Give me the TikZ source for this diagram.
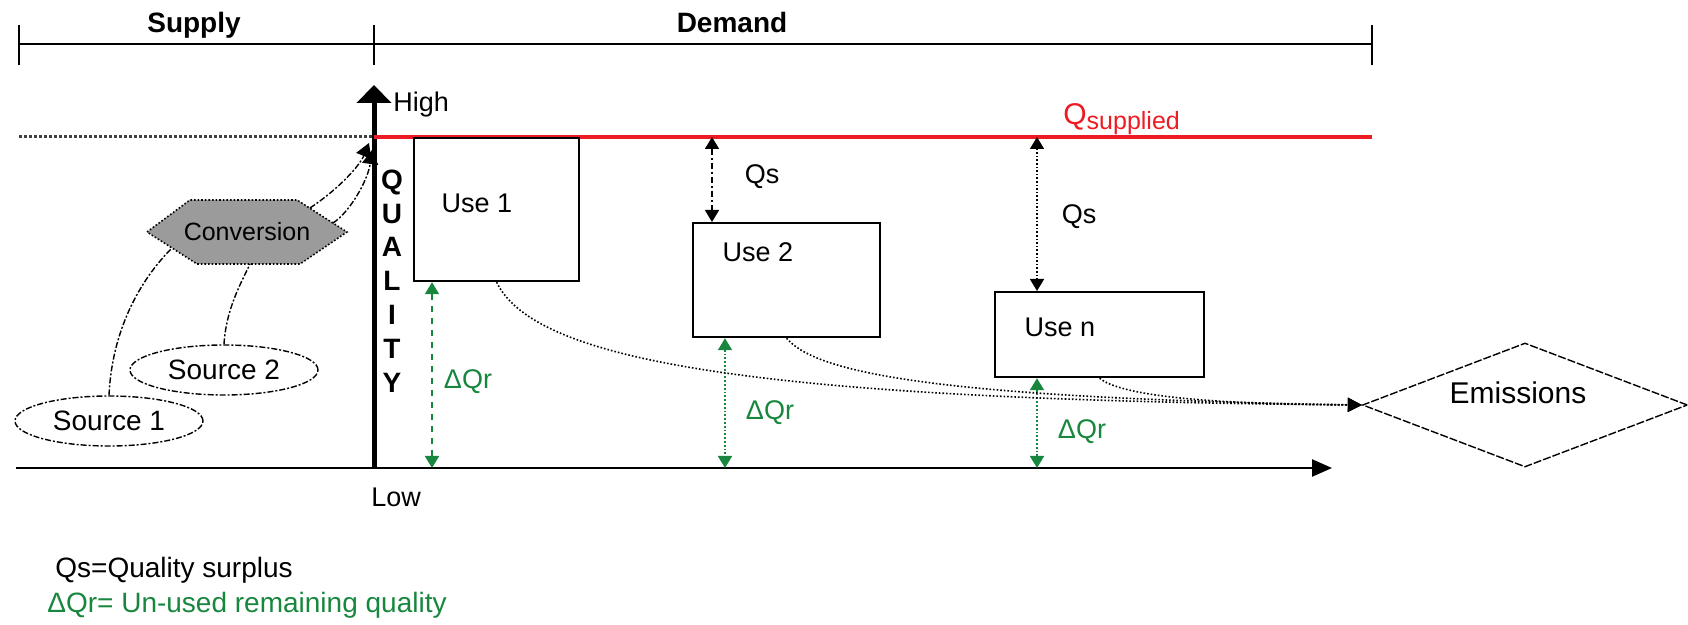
\documentclass[tikz,border=0pt]{standalone}
\usepackage{fontspec}
\setmainfont{Liberation Sans}
\usetikzlibrary{arrows.meta,shapes.geometric}
\definecolor{qred}{RGB}{237,28,36}
\definecolor{qgreen}{RGB}{24,135,62}
\definecolor{convgray}{RGB}{155,155,155}

\begin{document}
\begin{tikzpicture}[x=0.5pt,y=0.5pt,
  txt/.style={font=\fontsize{13.5}{16}\selectfont, inner sep=0},
  headtxt/.style={font=\bfseries\fontsize{14}{16}\selectfont, inner sep=0},
  usebox/.style={draw, line width=1.1pt, inner sep=0, anchor=north west},
  srcnode/.style={ellipse, draw, dash pattern=on 3pt off 1pt on 1pt off 1pt, line width=0.7pt,
    minimum width=94pt, minimum height=25pt, inner sep=0, font=\fontsize{14}{16}\selectfont},
  hexline/.style={draw, densely dotted, line width=0.8pt, fill=convgray},
  convtxt/.style={inner sep=0, font=\fontsize{12.5}{14}\selectfont},
  emis/.style={diamond, draw, dash pattern=on 4pt off 1pt, line width=0.7pt,
    minimum width=162.5pt, minimum height=62pt, inner sep=0},
  srclink/.style={line width=0.7pt, dash pattern=on 3pt off 1pt on 1pt off 1pt},
  feed/.style={srclink, -{Triangle[length=7pt,width=8pt]}},
  flow/.style={line width=0.8pt, densely dotted, -{Triangle[length=7pt,width=7pt]}},
  bothtips/.style={{Triangle[length=6pt,width=7pt]}-{Triangle[length=6pt,width=7pt]}},
  qsarrow/.style={line width=0.8pt, bothtips},
  dq/.style={qgreen, line width=0.9pt, bothtips},
]
\useasboundingbox (0,0) rectangle (1688,-625);

% Supply / Demand bracket
\coordinate (bl) at (19,-44);
\coordinate (br) at (1372,-44);
\draw[line width=1pt] (bl) -- (br);
\foreach \x in {19,374,1372} \draw[line width=1pt] (\x,-25) -- (\x,-65);
\node[headtxt, anchor=base] (supply) at (194,-33) {Supply};
\node[headtxt, anchor=base] (demand) at (732,-33) {Demand};

% axes
\coordinate (O) at (374,-468);
\coordinate (top) at (374,-85);
\coordinate (xstart) at (16,-468);
\coordinate (xend) at (1332,-468);
\draw[line width=1.2pt, -{Triangle[length=10pt,width=8.5pt]}] (xstart) -- (xend);
\draw[line width=2.5pt, -{Triangle[length=9pt,width=17pt]}] (O) -- (top);
\node[txt, anchor=base west] (high) at (393,-112) {High};
\node[txt, anchor=base west] (low) at (371,-507) {Low};
\node[font=\bfseries\fontsize{14}{16.9}\selectfont, align=center, inner sep=0] (qual) at (392,-281) {Q\\U\\A\\L\\I\\T\\Y};

% supplied quality level
\coordinate (lvl) at (374,-137);
\coordinate (lvlend) at (1372,-137);
\draw[black!75, line width=1.5pt, densely dotted] (19,-137) -- (lvl);
\draw[qred, line width=2pt] (lvl) -- (lvlend);
\node[qred, anchor=base west, inner sep=0] (qsup) at (1063,-125)
  {\fontsize{15}{16}\selectfont Q\raisebox{-2.5pt}{\fontsize{12.5}{14}\selectfont supplied}};

% uses
\node[usebox, minimum width=82.5pt, minimum height=71.5pt] (u1) at (413,-137) {};
\node[usebox, minimum width=93.5pt, minimum height=57pt] (u2) at (692,-222) {};
\node[usebox, minimum width=104.5pt, minimum height=42.5pt] (un) at (994,-291) {};
\node[txt] (u1t) at ([shift={(64,-66)}]u1.north west) {Use 1};
\node[txt] (u2t) at ([shift={(66,-30)}]u2.north west) {Use 2};
\node[txt] (unt) at ([shift={(66,-36)}]un.north west) {Use n};

% quality surplus
\coordinate (s2) at (712,-137);
\coordinate (sn) at (1037,-137);
\draw[qsarrow, dash pattern=on 3pt off 1.5pt on 1pt off 1.5pt] (s2) -- (s2 |- u2.north);
\draw[qsarrow, densely dotted] (sn) -- (sn |- un.north);
\node[txt] (qs2) at (762,-177) {Qs};
\node[txt] (qsn) at (1079,-217) {Qs};

% remaining quality
\coordinate (r1) at (432,-468);
\coordinate (r2) at (725,-468);
\coordinate (rn) at (1037,-468);
\draw[dq, dashed] (r1 |- u1.south) -- (r1);
\draw[dq, densely dotted] (r2 |- u2.south) -- (r2);
\draw[dq, densely dotted] (rn |- un.south) -- (rn);
\node[txt, qgreen] (dq1) at (468,-382) {ΔQr};
\node[txt, qgreen] (dq2) at (770,-413) {ΔQr};
\node[txt, qgreen] (dqn) at (1082,-432) {ΔQr};

% emissions
\node[emis] (em) at (1525,-405) {};
\node[font=\fontsize{15}{17}\selectfont, inner sep=0] (emt) at (1518,-393) {Emissions};
\draw[flow] (u1.south) .. controls (535,-362) and (760,-400) .. (em.west);
\draw[flow] (u2.south) .. controls (815,-372) and (930,-398) .. (em.west);
\draw[flow] (un.south) .. controls (1120,-395) and (1200,-404) .. (em.west);

% sources and the conversion hexagon
\node[srcnode] (src1) at (109,-421) {Source 1};
\node[srcnode] (src2) at (224,-370) {Source 2};
\coordinate (cc) at (247,-232);
\path[hexline] ([shift={(-100,0)}]cc) -- ([shift={(-57,32)}]cc) -- ([shift={(50,32)}]cc)
  -- ([shift={(100,0)}]cc) -- ([shift={(53,-32)}]cc) -- ([shift={(-50,-32)}]cc) -- cycle;
\node[convtxt] (conv) at (cc) {Conversion};
\coordinate (hitA) at (369,-143);
\coordinate (hitB) at (372,-150);
\draw[srclink] (src1.north) .. controls (112,-330) and (140,-280) .. ([shift={(-75,-16)}]conv.center);
\draw[srclink] (src2.north) .. controls (226,-310) and (240,-285) .. ([shift={(3,-32)}]conv.center);
\draw[feed] ([shift={(63,24)}]conv.center) .. controls (340,-188) and (360,-165) .. (hitA);
\draw[feed] ([shift={(86,9)}]conv.center) .. controls (350,-212) and (368,-180) .. (hitB);

% legend
\node[txt, anchor=west, font=\fontsize{14}{16}\selectfont] (leg1) at (55,-570) {Qs=Quality surplus};
\node[txt, anchor=west, qgreen, font=\fontsize{14}{16}\selectfont] (leg2) at (47,-605) {ΔQr= Un-used remaining quality};
\end{tikzpicture}
\end{document}
